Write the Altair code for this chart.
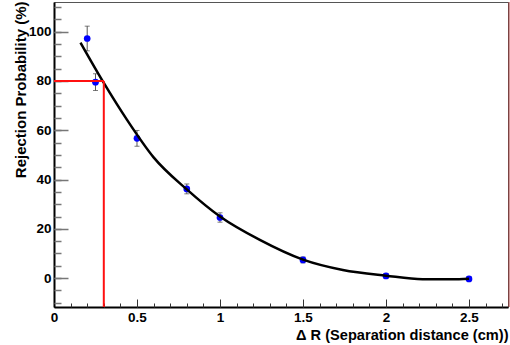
import altair as alt
import pandas as pd

# ---- data ----
x_vals = [0.2, 0.25, 0.5, 0.8, 1.0, 1.5, 2.0, 2.5]
y_vals = [97.2, 79.5, 56.7, 36.2, 24.6, 7.4, 0.9, -0.3]
y_errs = [5.0, 3.4, 3.2, 2.0, 1.9, 1.2, 1.0, 0.8]

fit_x = [0.16, 0.3, 0.44, 0.6, 0.8, 1.0, 1.24, 1.5, 1.74, 2.0, 2.22, 2.44, 2.5]
fit_y = [95.5, 79.2, 64.2, 49.0, 36.0, 25.0, 15.5, 7.5, 3.3, 1.0, -0.4, -0.4, -0.2]

cut_x = 0.3
cut_y = 80

x_major = [0, 0.5, 1, 1.5, 2, 2.5]
x_minor = [round(0.1 * i, 1) for i in range(28)]
y_major = [0, 20, 40, 60, 80, 100]
y_minor = [5 * i for i in range(-2, 23)]

x_domain = [0, 2.735]
y_domain = [-11.7, 112]

x_title = "\u0394 R (Separation distance (cm))"
y_title = "Rejection Probability (%)"

# ---- layout ----
W, H = 454, 305
FONT = "Liberation Sans"

pts = pd.DataFrame({"x": x_vals, "y": y_vals, "err": y_errs})
pts["lo"] = pts["y"] - pts["err"]
pts["hi"] = pts["y"] + pts["err"]
caps = pd.DataFrame({"x": x_vals * 2, "y": list(pts["lo"]) + list(pts["hi"])})
fit = pd.DataFrame({"x": fit_x, "y": fit_y})
hline = pd.DataFrame({"x": [0], "x2": [cut_x], "y": [cut_y]})
vline = pd.DataFrame({"x": [cut_x], "y": [cut_y]})

xs = alt.Scale(domain=x_domain, nice=False, zero=False)
ys = alt.Scale(domain=y_domain, nice=False, zero=False)

x_label_axis = alt.Axis(
    orient="bottom", values=x_major, format="~g", ticks=False, grid=False,
    domain=True, domainColor="black", domainWidth=2,
    labelFont=FONT, labelFontWeight="bold", labelFontSize=13.5, labelColor="black",
    labelPadding=3, labelFlush=False,
    title=x_title, titleFont=FONT, titleFontWeight="bold", titleFontSize=14.6,
    titleColor="black", titleAnchor="end", titleAlign="right",
    titleBaseline="alphabetic", titleX=W, titleY=32,
)
y_label_axis = alt.Axis(
    orient="left", values=y_major, ticks=False, grid=False,
    domain=True, domainColor="black", domainWidth=2,
    labelFont=FONT, labelFontWeight="bold", labelFontSize=13.5, labelColor="black",
    labelPadding=3, labelFlush=False,
    title=y_title, titleFont=FONT, titleFontWeight="bold", titleFontSize=15,
    titleColor="black", titleAngle=270, titleAnchor="end", titleAlign="right",
    titleBaseline="alphabetic", titleX=-29, titleY=-1,
)

def tick_axis(orient, offset, values, size, color, width):
    return alt.Axis(
        orient=orient, offset=offset, values=values, tickSize=size,
        tickColor=color, tickWidth=width, labels=False, domain=False,
        grid=False, title=None,
    )

err_rules = alt.Chart(pts).mark_rule(color="#555555", strokeWidth=1).encode(
    x=alt.X("x:Q", scale=xs, axis=x_label_axis),
    y=alt.Y("lo:Q", scale=ys, axis=y_label_axis),
    y2="hi:Q",
)

err_caps = alt.Chart(caps).mark_tick(
    color="#444444", size=5, thickness=1, orient="horizontal"
).encode(
    x=alt.X("x:Q", scale=xs, axis=None),
    y=alt.Y("y:Q", scale=ys, axis=None),
)

points = alt.Chart(pts).mark_circle(color="#0000ff", size=45, opacity=1).encode(
    x=alt.X("x:Q", scale=xs, axis=tick_axis("top", -H, x_major, 8, "#333333", 1)),
    y=alt.Y("y:Q", scale=ys, axis=tick_axis("right", -W, y_major, 14, "#777777", 1.5)),
)

curve = alt.Chart(fit).mark_line(
    color="black", strokeWidth=2.5, interpolate="monotone"
).encode(
    x=alt.X("x:Q", scale=xs, axis=tick_axis("top", -H, x_minor, 4, "#333333", 1)),
    y=alt.Y("y:Q", scale=ys, axis=tick_axis("right", -W, y_minor, 7, "#777777", 1.5)),
)

red_h = alt.Chart(hline).mark_rule(color="#ff1010", strokeWidth=2).encode(
    x=alt.X("x:Q", scale=xs, axis=None),
    x2="x2:Q",
    y=alt.Y("y:Q", scale=ys, axis=None),
)
red_v = alt.Chart(vline).mark_rule(color="#ff1010", strokeWidth=2).encode(
    x=alt.X("x:Q", scale=xs, axis=None),
    y=alt.Y("y:Q", scale=ys, axis=None),
    y2=alt.value(H),
)
right_edge = alt.Chart(vline).mark_rule(color="#a03030", strokeWidth=1).encode(
    x=alt.value(W + 1), y=alt.value(0), y2=alt.value(H)
)

chart = (
    alt.layer(err_rules, err_caps, points, curve, red_h, red_v, right_edge)
    .resolve_axis(x="independent", y="independent")
    .properties(
        width=W, height=H,
        autosize=alt.AutoSizeParams(type="none"),
        padding={"left": 54, "top": 2, "right": 2, "bottom": 38},
        background="white",
    )
    .configure_view(stroke="#555555", strokeWidth=1)
)

chart.save("out.html", embed_options={"renderer": "svg", "actions": False})
